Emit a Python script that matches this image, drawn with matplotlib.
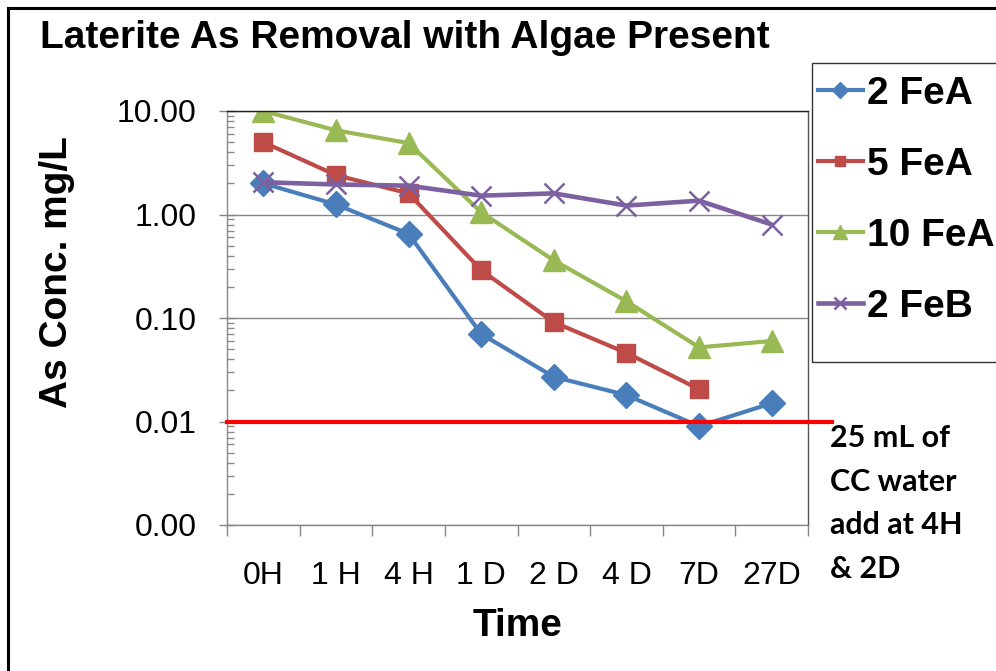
import numpy as np
import matplotlib.pyplot as plt
from matplotlib.patches import Rectangle
from matplotlib.ticker import FixedLocator, FormatStrFormatter, LogLocator, NullFormatter

# data
times = ['0H', '1 H', '4 H', '1 D', '2 D', '4 D', '7D', '27D']
fe2a = [2.0, 1.25, 0.65, 0.070, 0.027, 0.018, 0.009, 0.015]
fe5a = [5.0, 2.4, 1.6, 0.29, 0.091, 0.046, 0.0205, np.nan]
fe10a = [10.0, 6.5, 4.9, 1.05, 0.36, 0.145, 0.052, 0.060]
fe2b = [2.05, 1.95, 1.9, 1.52, 1.6, 1.22, 1.36, 0.80]
limit = 0.01
note = '25 mL of\nCC water\nadd at 4H\n& 2D'

plt.rcParams['font.family'] = ['Liberation Sans', 'DejaVu Sans']

W, H = 996, 671
fig = plt.figure(figsize=(W / 100, H / 100), dpi=100)
ax = fig.add_axes([227 / W, 1 - 525 / H, (808 - 227) / W, (525 - 111) / H])

x = np.arange(len(times))
l1, = ax.plot(x, fe2a, color='#4A7EBB', lw=3, marker='D', ms=13, label='2 FeA')
l2, = ax.plot(x, fe5a, color='#BE4B48', lw=3, marker='s', ms=13, label='5 FeA')
l3, = ax.plot(x, fe10a, color='#98B954', lw=3, marker='^', ms=16, label='10 FeA')
l4, = ax.plot(x, fe2b, color='#7D60A0', lw=3.3, marker='x', ms=15, mew=1.8, label='2 FeB')

# limit line runs past the plot area
ax.plot([0, 1.0413], [limit, limit], color='#FF0000', lw=3,
        transform=ax.get_yaxis_transform(), clip_on=False, zorder=5)

ax.set_yscale('log')
ax.set_ylim(0.001, 10)
ax.set_xlim(-0.5, len(times) - 0.5)
ax.yaxis.set_major_locator(FixedLocator([0.001, 0.01, 0.1, 1, 10]))
ax.yaxis.set_major_formatter(FormatStrFormatter('%.2f'))
ax.yaxis.set_minor_locator(LogLocator(base=10, subs=np.arange(2, 10)))
ax.yaxis.set_minor_formatter(NullFormatter())
ax.grid(axis='y', which='major', color='#878787', lw=1)
ax.tick_params(axis='y', which='major', direction='inout', length=12, width=1,
               color='#878787', labelsize=23, pad=16)
ax.tick_params(axis='y', which='minor', direction='in', length=5, width=1, color='#878787')

ax.set_xticks(x)
ax.set_xticklabels(times)
ax.set_xticks(np.arange(len(times) + 1) - 0.5, minor=True)
ax.tick_params(axis='x', which='major', length=0, labelsize=23, pad=26)
ax.tick_params(axis='x', which='minor', direction='out', length=8, width=1, color='#878787')

for s in ['left', 'bottom']:
    ax.spines[s].set_color('#878787')
ax.spines['top'].set_color('#222222')
ax.spines['right'].set_color('#555555')
for s in ax.spines.values():
    s.set_linewidth(1)

ax.set_xlabel('Time', fontsize=28, fontweight='bold')
ax.xaxis.set_label_coords(0.5, -0.2)
fig.text(57 / W, 1 - 272 / H, 'As Conc. mg/L', rotation=90, ha='center', va='center',
         fontsize=28, fontweight='bold')
fig.text(40 / W, 1 - 38 / H, 'Laterite As Removal with Algae Present', ha='left', va='center',
         fontsize=28, fontweight='bold')

# legend with its own frame cut by the figure edge
fig.patches.append(Rectangle((812 / W, 1 - 362 / H), 0.5, (362 - 63) / H, transform=fig.transFigure,
                             fill=False, ec='#333333', lw=1))
fig.legend(handles=[l1, l2, l3, l4], loc='upper left', bbox_to_anchor=(818 / W, 1 - 76 / H),
           frameon=False, prop={'weight': 'bold', 'size': 28},
           handlelength=1.15, handletextpad=0.1, labelspacing=0.9, markerscale=0.6, borderpad=0,
           borderaxespad=0)

fig.text(830 / W, 1 - 424 / H, note, ha='left', va='top', fontsize=22, fontweight='bold',
         family=['Lato', 'DejaVu Sans'], linespacing=1.68)

# outer frame
fig.patches.append(Rectangle((8 / W, -0.5), 1.5, 1.5 - 8 / H, transform=fig.transFigure,
                             fill=False, ec='black', lw=2.2))

fig.savefig('out.png', dpi=100)
